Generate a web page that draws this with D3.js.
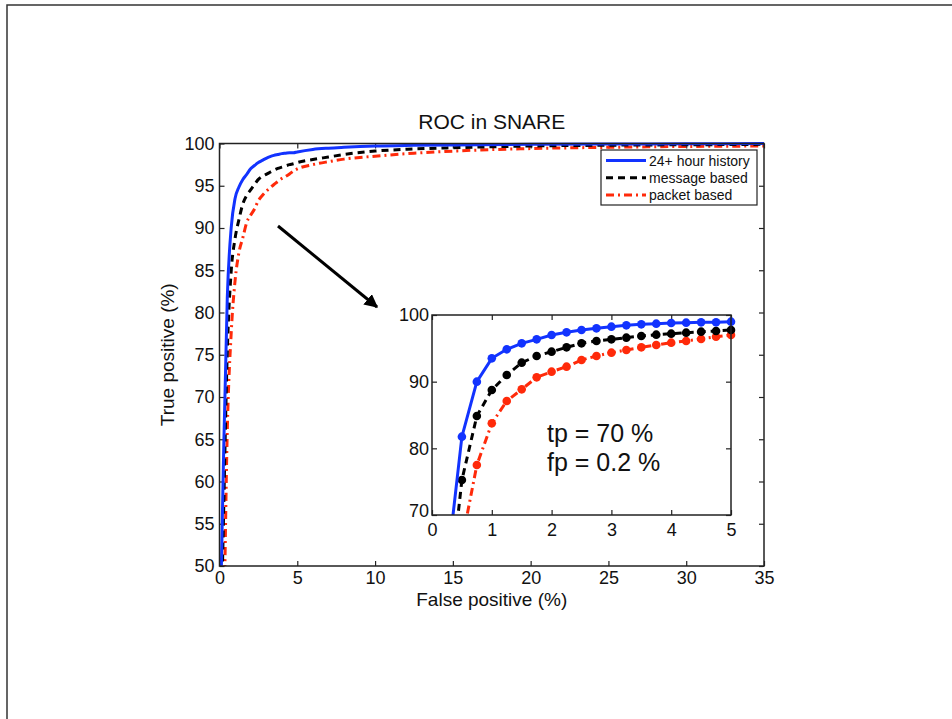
<!DOCTYPE html>
<html>
<head>
<meta charset="utf-8">
<script src="https://cdn.jsdelivr.net/npm/d3@7"></script>
<style>
  html, body { margin: 0; padding: 0; background: #fff; }
  svg { display: block; }
  text { font-family: "Liberation Sans", Arial, Helvetica, sans-serif; fill: #111; }
</style>
</head>
<body>
<script>
// ---------------- data ----------------
const title = "ROC in SNARE";
const xLabel = "False positive (%)";
const yLabel = "True positive (%)";
const seriesNames = ["24+ hour history", "message based", "packet based"];
const fp = [0.1, 0.25, 0.5, 0.75, 1, 1.25, 1.5, 1.75, 2, 2.25, 2.5, 2.75, 3, 3.25, 3.5, 3.75, 4, 4.25, 4.5, 4.75, 5,
            6, 7, 8, 10, 12.5, 15, 20, 25, 30, 35];
const tpHistory = [48, 62, 81.75, 90, 93.5, 94.85, 95.75, 96.35, 97, 97.4, 97.75, 98, 98.25, 98.45, 98.6, 98.7, 98.8, 98.85, 98.9, 98.9, 99.0,
                   99.3, 99.45, 99.55, 99.7, 99.78, 99.83, 99.9, 99.93, 99.96, 100];
const tpMessage = [42, 55, 75.25, 84.85, 88.75, 91, 92.85, 93.85, 94.5, 95.15, 95.75, 96.1, 96.35, 96.6, 96.85, 97.05, 97.2, 97.35, 97.5, 97.6, 97.75,
                   98.1, 98.4, 98.7, 99.1, 99.35, 99.5, 99.7, 99.8, 99.85, 99.9];
const tpPacket = [30, 40, 66, 77.5, 83.75, 87.1, 88.85, 90.65, 91.5, 92.25, 93.25, 93.85, 94.35, 94.75, 95.15, 95.5, 95.85, 96.1, 96.4, 96.75, 97.0,
                  97.5, 97.85, 98.15, 98.5, 98.85, 99.1, 99.4, 99.55, 99.65, 99.7];
const mainXTicks = [0, 5, 10, 15, 20, 25, 30, 35];
const mainYTicks = [50, 55, 60, 65, 70, 75, 80, 85, 90, 95, 100];
const insetXTicks = [0, 1, 2, 3, 4, 5];
const insetYTicks = [70, 80, 90, 100];
const annotation = ["tp = 70 %", "fp = 0.2 %"];

// ---------------- styles ----------------
const colors = ["#1233ff", "#000000", "#ff2a0a"];
const dashes = [null, "7,5", "8,4,2,4"];
const series = [tpHistory, tpMessage, tpPacket].map((v, i) => ({
  name: seriesNames[i], color: colors[i], dash: dashes[i],
  pts: fp.map((x, j) => ({ x, y: v[j] }))
}));

const W = 952, H = 719;
const svg = d3.select("body").append("svg").attr("width", W).attr("height", H);

// page frame
svg.append("path").attr("d", `M7,${H} L7,5 L${W},5`)
  .attr("fill", "none").attr("stroke", "#333").attr("stroke-width", 1.5);

// ---------------- main axes ----------------
const M = { l: 219.5, r: 764, t: 143.5, b: 566 };
const x = d3.scaleLinear().domain([0, 35]).range([M.l, M.r]);
const y = d3.scaleLinear().domain([50, 100]).range([M.b, M.t]);

const defs = svg.append("defs");
defs.append("clipPath").attr("id", "clipMain").append("rect")
  .attr("x", M.l).attr("y", M.t - 2).attr("width", M.r - M.l).attr("height", M.b - M.t + 2);

function styleAxis(g, fontSize) {
  g.select(".domain").remove();
  g.selectAll(".tick line").attr("stroke", "#222").attr("stroke-width", 1.2);
  g.selectAll(".tick text").attr("font-size", fontSize).attr("fill", "#111")
    .attr("font-family", '"Liberation Sans", Arial, sans-serif');
}
const fmt = d3.format("d");

svg.append("g").attr("transform", `translate(0,${M.b})`)
  .call(d3.axisBottom(x).tickValues(mainXTicks).tickFormat(fmt).tickSizeInner(-5).tickSizeOuter(0).tickPadding(5))
  .call(g => styleAxis(g, 18));
svg.append("g").attr("transform", `translate(0,${M.t})`)
  .call(d3.axisTop(x).tickValues(mainXTicks).tickSizeInner(-5).tickSizeOuter(0).tickFormat(""))
  .call(g => styleAxis(g, 18));
svg.append("g").attr("transform", `translate(${M.l},0)`)
  .call(d3.axisLeft(y).tickValues(mainYTicks).tickFormat(fmt).tickSizeInner(-5).tickSizeOuter(0).tickPadding(5))
  .call(g => styleAxis(g, 18));
svg.append("g").attr("transform", `translate(${M.r},0)`)
  .call(d3.axisRight(y).tickValues(mainYTicks).tickSizeInner(-5).tickSizeOuter(0).tickFormat(""))
  .call(g => styleAxis(g, 18));

// main lines
const mainLine = d3.line().x(d => x(d.x)).y(d => y(d.y)).curve(d3.curveMonotoneX);
const gMain = svg.append("g").attr("clip-path", "url(#clipMain)");
series.slice().reverse().forEach(s => {
  gMain.append("path").datum(s.pts).attr("d", mainLine)
    .attr("fill", "none").attr("stroke", s.color).attr("stroke-width", 3)
    .attr("stroke-dasharray", s.dash);
});

// main frame
svg.append("rect").attr("x", M.l).attr("y", M.t).attr("width", M.r - M.l).attr("height", M.b - M.t)
  .attr("fill", "none").attr("stroke", "#222").attr("stroke-width", 1.5);

// title and labels
svg.append("text").attr("x", (M.l + M.r) / 2).attr("y", 129).attr("text-anchor", "middle")
  .attr("font-size", 21).text(title);
svg.append("text").attr("x", (M.l + M.r) / 2).attr("y", 606).attr("text-anchor", "middle")
  .attr("font-size", 19).text(xLabel);
svg.append("text").attr("transform", `translate(174,${(M.t + M.b) / 2}) rotate(-90)`)
  .attr("text-anchor", "middle").attr("font-size", 19).text(yLabel);

// legend
const L = { x: 601, y: 150, w: 156, h: 55 };
const gLeg = svg.append("g");
gLeg.append("rect").attr("x", L.x).attr("y", L.y).attr("width", L.w).attr("height", L.h)
  .attr("fill", "#fff").attr("stroke", "#222").attr("stroke-width", 1.2);
series.forEach((s, i) => {
  const ly = L.y + 10.5 + i * 17.2;
  gLeg.append("line").attr("x1", L.x + 5).attr("x2", L.x + 45).attr("y1", ly).attr("y2", ly)
    .attr("stroke", s.color).attr("stroke-width", 3).attr("stroke-dasharray", s.dash);
  gLeg.append("text").attr("x", L.x + 48).attr("y", ly + 5).attr("font-size", 14).text(s.name);
});

// ---------------- inset ----------------
const I = { l: 432, r: 731, t: 315, b: 515 };
const xi = d3.scaleLinear().domain([0, 5]).range([I.l, I.r]);
const yi = d3.scaleLinear().domain([70, 100]).range([I.b, I.t]);
defs.append("clipPath").attr("id", "clipInset").append("rect")
  .attr("x", I.l).attr("y", I.t - 5).attr("width", I.r - I.l + 5).attr("height", I.b - I.t + 5);

svg.append("rect").attr("x", I.l).attr("y", I.t).attr("width", I.r - I.l).attr("height", I.b - I.t)
  .attr("fill", "#fff");

svg.append("g").attr("transform", `translate(0,${I.b})`)
  .call(d3.axisBottom(xi).tickValues(insetXTicks).tickFormat(fmt).tickSizeInner(-5).tickSizeOuter(0).tickPadding(8))
  .call(g => styleAxis(g, 18));
svg.append("g").attr("transform", `translate(0,${I.t})`)
  .call(d3.axisTop(xi).tickValues(insetXTicks).tickSizeInner(-5).tickSizeOuter(0).tickFormat(""))
  .call(g => styleAxis(g, 18));
svg.append("g").attr("transform", `translate(${I.l},0)`)
  .call(d3.axisLeft(yi).tickValues(insetYTicks).tickFormat(fmt).tickSizeInner(-5).tickSizeOuter(0).tickPadding(3))
  .call(g => styleAxis(g, 18))
  .call(g => g.selectAll(".tick text").filter(d => d === 70).attr("dy", "0.1em"));
svg.append("g").attr("transform", `translate(${I.r},0)`)
  .call(d3.axisRight(yi).tickValues(insetYTicks).tickSizeInner(-5).tickSizeOuter(0).tickFormat(""))
  .call(g => styleAxis(g, 18));

const insetLine = d3.line().x(d => xi(d.x)).y(d => yi(d.y));
const gIn = svg.append("g").attr("clip-path", "url(#clipInset)");
series.slice().reverse().forEach(s => {
  const pts = s.pts.filter(d => d.x <= 5);
  gIn.append("path").datum(pts).attr("d", insetLine)
    .attr("fill", "none").attr("stroke", s.color).attr("stroke-width", 3)
    .attr("stroke-dasharray", s.dash);
  gIn.selectAll(null).data(pts.filter(d => d.x >= 0.25)).enter().append("circle")
    .attr("cx", d => xi(d.x)).attr("cy", d => yi(d.y)).attr("r", 4.3)
    .attr("fill", s.color);
});

svg.append("rect").attr("x", I.l).attr("y", I.t).attr("width", I.r - I.l).attr("height", I.b - I.t)
  .attr("fill", "none").attr("stroke", "#222").attr("stroke-width", 1.5);

annotation.forEach((t, i) => {
  svg.append("text").attr("x", 547).attr("y", 442 + i * 28.5).attr("font-size", 25).text(t);
});

// arrow
defs.append("marker").attr("id", "arrowHead").attr("viewBox", "0 0 10 10")
  .attr("refX", 9).attr("refY", 5).attr("markerWidth", 4.5).attr("markerHeight", 4.5)
  .attr("orient", "auto").attr("markerUnits", "strokeWidth")
  .append("path").attr("d", "M0,0 L10,5 L0,10 Z").attr("fill", "#000");
svg.append("line").attr("x1", 278).attr("y1", 226).attr("x2", 377).attr("y2", 307)
  .attr("stroke", "#000").attr("stroke-width", 3).attr("marker-end", "url(#arrowHead)");
</script>
</body>
</html>
